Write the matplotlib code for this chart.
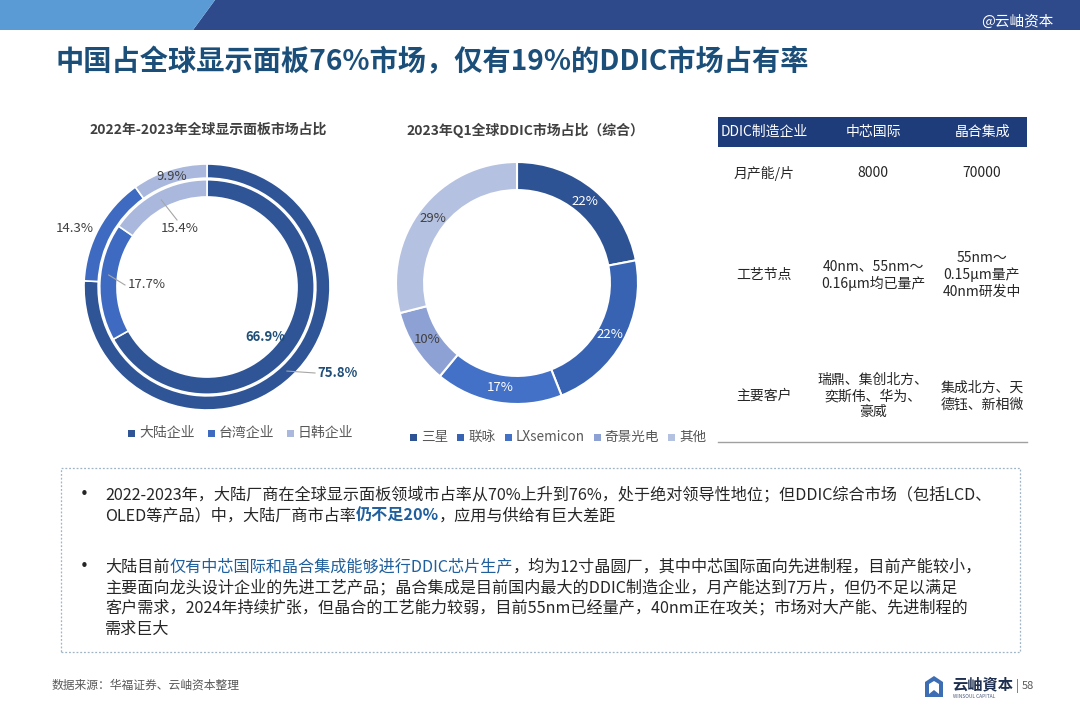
import matplotlib
matplotlib.use('Agg')
import matplotlib.pyplot as plt
from matplotlib.patches import Rectangle, Polygon
import numpy as np

plt.rcParams['font.family'] = ['Noto Sans CJK SC', 'DejaVu Sans']

# ---------------- data ----------------
panel_categories = ['大陆企业', '台湾企业', '日韩企业']
panel_inner = [66.9, 17.7, 15.4]
panel_outer = [75.8, 14.3, 9.9]
panel_colors = ['#2F5597', '#3E6BC1', '#A9B8DC']

ddic_companies = ['三星', '联咏', 'LXsemicon', '奇景光电', '其他']
ddic_share = [22, 22, 17, 10, 29]
ddic_colors = ['#2E5394', '#3763B2', '#4371C8', '#8EA1D4', '#B5C1E0']

table_header = ['DDIC制造企业', '中芯国际', '晶合集成']
table_rows = ['月产能/片', '工艺节点', '主要客户']
table_smic = ['8000', '40nm、55nm～\n0.16μm均已量产', '瑞鼎、集创北方、\n奕斯伟、华为、\n豪威']
table_nexchip = ['70000', '55nm～\n0.15μm量产\n40nm研发中', '集成北方、天\n德钰、新相微']

title = '中国占全球显示面板76%市场，仅有19%的DDIC市场占有率'
chart1_title = '2022年-2023年全球显示面板市场占比'
chart2_title = '2023年Q1全球DDIC市场占比（综合）'

BLUE_T = '#1F5F9E'
BLK = '#262626'
bullet1 = [
    [('2022-2023年，大陆厂商在全球显示面板领域市占率从70%上升到76%，处于绝对领导性地位；但DDIC综合市场（包括LCD、', BLK, 'normal')],
    [('OLED等产品）中，大陆厂商市占率', BLK, 'normal'), ('仍不足20%', BLUE_T, 'bold'), ('，应用与供给有巨大差距', BLK, 'normal')],
]
bullet2 = [
    [('大陆目前', BLK, 'normal'), ('仅有中芯国际和晶合集成能够进行DDIC芯片生产', BLUE_T, 'normal'),
     ('，均为12寸晶圆厂，其中中芯国际面向先进制程，目前产能较小，', BLK, 'normal')],
    [('主要面向龙头设计企业的先进工艺产品；晶合集成是目前国内最大的DDIC制造企业，月产能达到7万片，但仍不足以满足', BLK, 'normal')],
    [('客户需求，2024年持续扩张，但晶合的工艺能力较弱，目前55nm已经量产，40nm正在攻关；市场对大产能、先进制程的', BLK, 'normal')],
    [('需求巨大', BLK, 'normal')],
]
source = '数据来源：华福证券、云岫资本整理'

# ---------------- figure ----------------
W, H = 1080, 720
fig = plt.figure(figsize=(10.8, 7.2), dpi=100)
fig.patch.set_facecolor('white')
renderer = fig.canvas.get_renderer()


def fx(x):
    return x / W


def fy(y):
    return 1 - y / H


def ftext(x, y, s, **kw):
    return fig.text(fx(x), fy(y), s, **kw)


# header band
fig.patches.append(Polygon([(fx(0), fy(0)), (fx(1080), fy(0)), (fx(1080), fy(30)), (fx(193), fy(30)), (fx(215), fy(0))],
                           closed=True, transform=fig.transFigure, facecolor='#2E4A8B', edgecolor='none'))
fig.patches.append(Polygon([(fx(0), fy(0)), (fx(215), fy(0)), (fx(193), fy(30)), (fx(0), fy(30))],
                           closed=True, transform=fig.transFigure, facecolor='#5B9BD5', edgecolor='none'))
ftext(1054, 22, '@云岫资本', color='white', fontsize=10.5, ha='right', va='center')

# title
ftext(56, 62, title, color='#1B4F7A', fontsize=20.3, fontweight='bold', ha='left', va='center')

# ---------------- chart 1 ----------------
cx1, cy1, R1 = 207, 287, 123
ax1 = fig.add_axes([fx(cx1 - R1), fy(cy1 + R1), 2 * R1 / W, 2 * R1 / H])
ax1.pie(panel_outer, radius=1.0, startangle=90, counterclock=False, colors=panel_colors,
        wedgeprops=dict(width=0.115, edgecolor='white', linewidth=1.2))
ax1.pie(panel_inner, radius=0.872, startangle=90, counterclock=False, colors=panel_colors,
        wedgeprops=dict(width=0.14, edgecolor='white', linewidth=1.2))
ax1.set_xlim(-1, 1)
ax1.set_ylim(-1, 1)
ax1.set_aspect('equal')
ax1.axis('off')


def mid_angles(vals):
    vals = np.asarray(vals, dtype=float)
    cum = np.cumsum(vals) - vals / 2
    return np.deg2rad(90 - 360 * cum / vals.sum())


def px2d(x, y, cx, cy, R):
    return (x - cx) / R, -(y - cy) / R


a_out = mid_angles(panel_outer)
a_in = mid_angles(panel_inner)
lab_kw = dict(fontsize=9.5, va='center')
GRAY_T = '#404040'
NAVY_T = '#1F4E79'
# outer labels
p = (0.943 * np.cos(a_out[0]), 0.943 * np.sin(a_out[0]))
q = px2d(315, 373, cx1, cy1, R1)
ax1.plot([p[0], q[0]], [p[1], q[1]], color='#A6A6A6', lw=0.8)
ax1.text(*px2d(317, 373, cx1, cy1, R1), f'{panel_outer[0]:.1f}%', color=NAVY_T, fontweight='bold', ha='left', **lab_kw)
ax1.text(*px2d(75, 229, cx1, cy1, R1), f'{panel_outer[1]:.1f}%', color=GRAY_T, ha='center', **lab_kw)
ax1.text(0.943 * np.cos(a_out[2]), 0.943 * np.sin(a_out[2]), f'{panel_outer[2]:.1f}%', color=GRAY_T, ha='center', **lab_kw)
# inner labels
ax1.text(*px2d(265, 337, cx1, cy1, R1), f'{panel_inner[0]:.1f}%', color=NAVY_T, fontweight='bold', ha='center', **lab_kw)
p = (0.8 * np.cos(a_in[1]), 0.8 * np.sin(a_in[1]) + 0.06)
q = px2d(125, 285, cx1, cy1, R1)
ax1.plot([p[0], q[0]], [p[1], q[1]], color='#A6A6A6', lw=0.8)
ax1.text(*px2d(128, 285, cx1, cy1, R1), f'{panel_inner[1]:.1f}%', color=GRAY_T, ha='left', **lab_kw)
p = (0.8 * np.cos(a_in[2]), 0.8 * np.sin(a_in[2]))
q = px2d(177, 220, cx1, cy1, R1)
ax1.plot([p[0], q[0]], [p[1], q[1]], color='#A6A6A6', lw=0.8)
ax1.text(*px2d(180, 228, cx1, cy1, R1), f'{panel_inner[2]:.1f}%', color=GRAY_T, ha='center', **lab_kw)

ftext(208, 130, chart1_title, color='#404040', fontsize=10, fontweight='bold', ha='center', va='center')


def legend_row(x, y, names, colors, size=10, gap=9):
    for name, col in zip(names, colors):
        fig.patches.append(Rectangle((fx(x), fy(y + 4)), 7 / W, 7 / H, transform=fig.transFigure,
                                     facecolor=col, edgecolor='none'))
        t = ftext(x + 11, y, name, color='#595959', fontsize=size, ha='left', va='center')
        x += 11 + t.get_window_extent(renderer).width + gap


legend_row(128, 433, panel_categories, panel_colors, gap=13)

# ---------------- chart 2 ----------------
cx2, cy2, R2 = 517, 283, 121
ax2 = fig.add_axes([fx(cx2 - R2), fy(cy2 + R2), 2 * R2 / W, 2 * R2 / H])
wedges, texts, autotexts = ax2.pie(ddic_share, radius=1.0, startangle=90, counterclock=False, colors=ddic_colors,
                                   wedgeprops=dict(width=0.232, edgecolor='white', linewidth=1.5),
                                   autopct='%.0f%%', pctdistance=0.876, textprops=dict(fontsize=9.5))
for i, t in enumerate(autotexts):
    t.set_color('white' if i < 3 else GRAY_T)
ax2.set_xlim(-1, 1)
ax2.set_ylim(-1, 1)
ax2.set_aspect('equal')
ax2.axis('off')

ftext(525, 130, chart2_title, color='#404040', fontsize=10, fontweight='bold', ha='center', va='center')
legend_row(410, 437, ddic_companies, ddic_colors, size=9.8, gap=9)

# ---------------- table ----------------
fig.patches.append(Rectangle((fx(718), fy(147)), (1027 - 718) / W, 30 / H, transform=fig.transFigure,
                             facecolor='#1F3C7A', edgecolor='none'))
col_x = [764, 873, 982]
for xx, s in zip(col_x, table_header):
    ftext(xx, 132, s, color='white', fontsize=10, ha='center', va='center')
row_y = [173, 275, 396]
for yy, lab, v1, v2 in zip(row_y, table_rows, table_smic, table_nexchip):
    for xx, s in zip(col_x, [lab, v1, v2]):
        ftext(xx, yy, s, color='#262626', fontsize=10, ha='center', va='center', linespacing=1.2, multialignment='center')
fig.lines.append(plt.Line2D([fx(718), fx(1027)], [fy(442), fy(442)], transform=fig.transFigure, color='#A0A0A0', lw=1.0))

# ---------------- text box ----------------
fig.patches.append(Rectangle((fx(61), fy(652)), (1020 - 61) / W, (652 - 468) / H, transform=fig.transFigure,
                             facecolor='none', edgecolor='#9FB4C4', lw=0.9, linestyle=(0, (1.5, 1.5))))


def seg_line(x, y, segments, size=11.6):
    for txt, col, wt in segments:
        t = ftext(x, y, txt, fontsize=size, color=col, fontweight=wt, ha='left', va='center')
        x += t.get_window_extent(renderer).width


for blk, ys in ((bullet1, [495, 516]), (bullet2, [567, 588, 608, 629])):
    ftext(84, ys[0], '•', fontsize=15, color=BLK, ha='center', va='center')
    for segs, yy in zip(blk, ys):
        seg_line(105, yy, segs)

# ---------------- footer ----------------
ftext(52, 685, source, color='#595959', fontsize=8.5, ha='left', va='center')
fig.patches.append(Polygon([(fx(925), fy(697)), (fx(925), fy(682)), (fx(934), fy(676)), (fx(943), fy(682)), (fx(943), fy(697))],
                           closed=True, transform=fig.transFigure, facecolor='#3D6DB3', edgecolor='none'))
fig.patches.append(Polygon([(fx(929), fy(694)), (fx(929), fy(684)), (fx(934), fy(681)), (fx(939), fy(684)), (fx(939), fy(694)), (fx(934), fy(690))],
                           closed=True, transform=fig.transFigure, facecolor='white', edgecolor='none'))
ftext(952, 684, '云岫資本', color='#1F2F4F', fontsize=11, fontweight='bold', ha='left', va='center')
ftext(953, 697, 'WINSOUL CAPITAL', color='#4A5A7A', fontsize=3.5, ha='left', va='center')
ftext(1017, 686, '|', color='#595959', fontsize=9, ha='center', va='center')
ftext(1022, 686, '58', color='#595959', fontsize=8, ha='left', va='center')

fig.savefig('out.png', dpi=100, facecolor='white')
